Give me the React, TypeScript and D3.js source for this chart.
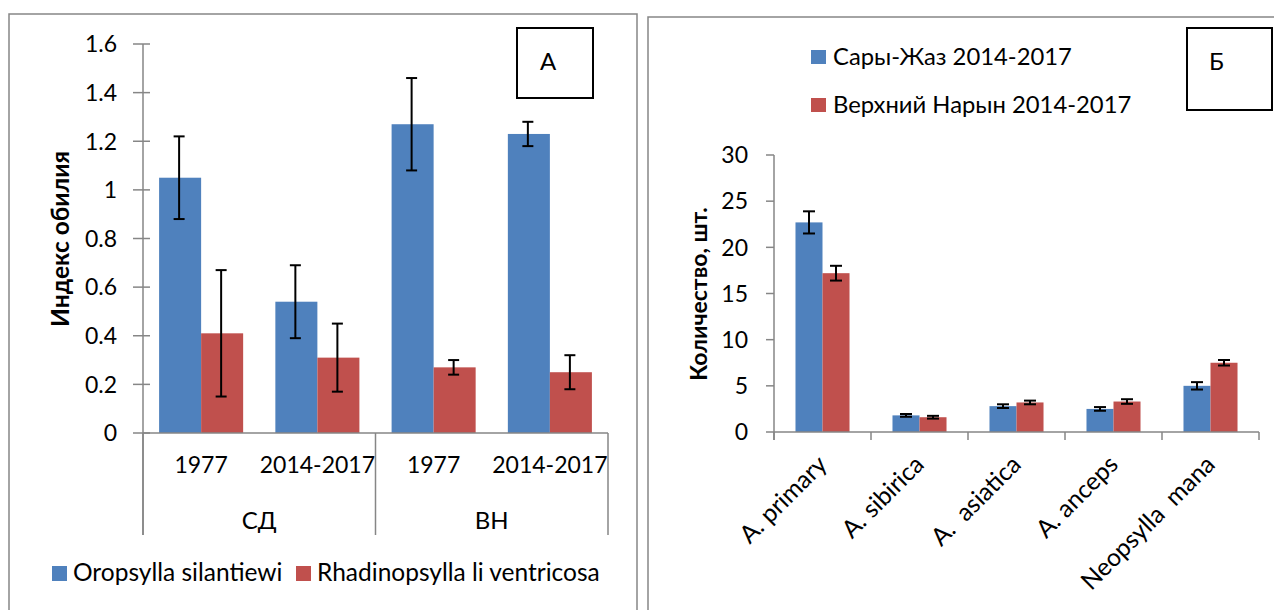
import React from "react";
import * as d3 from "d3";

const BLUE = "#4F81BD";
const RED = "#C0504D";
const AXIS = "#868686";
const FONT = "Lato, 'Open Sans', sans-serif";

// panel A
const aCats = ["1977", "2014-2017", "1977", "2014-2017"];
const aGroups = ["СД", "ВН"];
const aSeries = ["Oropsylla silantiewi", "Rhadinopsylla li ventricosa"];
const aBlue = [1.05, 0.54, 1.27, 1.23];
const aBlueLo = [0.88, 0.39, 1.08, 1.18];
const aBlueHi = [1.22, 0.69, 1.46, 1.28];
const aRed = [0.41, 0.31, 0.27, 0.25];
const aRedLo = [0.15, 0.17, 0.24, 0.18];
const aRedHi = [0.67, 0.45, 0.3, 0.32];
const aTicks = [0, 0.2, 0.4, 0.6, 0.8, 1, 1.2, 1.4, 1.6];

// panel B
const bCats = ["A. primary", "A. sibirica", "A.  asiatica", "A. anceps", "Neopsylla  mana"];
const bSeries = ["Сары-Жаз 2014-2017", "Верхний Нарын 2014-2017"];
const bBlue = [22.7, 1.8, 2.8, 2.5, 5.0];
const bBlueErr = [1.2, 0.15, 0.2, 0.2, 0.4];
const bRed = [17.2, 1.6, 3.2, 3.3, 7.5];
const bRedErr = [0.8, 0.15, 0.2, 0.25, 0.3];
const bTicks = [0, 5, 10, 15, 20, 25, 30];

const ErrBar = ({ x, y1, y2, cap }: { x: number; y1: number; y2: number; cap: number }) => (
  <g stroke="#000" strokeWidth={2}>
    <line x1={x} x2={x} y1={y1} y2={y2} />
    <line x1={x - cap / 2} x2={x + cap / 2} y1={y1} y2={y1} />
    <line x1={x - cap / 2} x2={x + cap / 2} y1={y2} y2={y2} />
  </g>
);

const PanelA = () => {
  const left = 143, right = 608, top = 44, base = 433;
  const keys = aCats.map((_, i) => String(i));
  const x0 = d3.scaleBand<string>().domain(keys).range([left, right]).paddingInner(0.277).paddingOuter(0.1385);
  const x1 = d3.scaleBand<string>().domain(aSeries).range([0, x0.bandwidth()]);
  const y = d3.scaleLinear().domain([0, 1.6]).range([base, top]);
  const groupEdges = [left, (left + right) / 2, right];
  const series = [
    { name: aSeries[0], color: BLUE, v: aBlue, lo: aBlueLo, hi: aBlueHi },
    { name: aSeries[1], color: RED, v: aRed, lo: aRedLo, hi: aRedHi },
  ];
  return (
    <g fontFamily={FONT}>
      <rect x={9} y={14} width={628} height={620} fill="none" stroke={AXIS} strokeWidth={1.5} />
      {/* y axis */}
      <line x1={left} x2={left} y1={top} y2={535} stroke={AXIS} strokeWidth={1.5} />
      {aTicks.map((t) => (
        <g key={t}>
          <line x1={left - 10} x2={left + 7} y1={y(t)} y2={y(t)} stroke={AXIS} strokeWidth={1.5} />
          <text x={117} y={y(t)} dy="0.36em" textAnchor="end" fontSize={23}>
            {t}
          </text>
        </g>
      ))}
      <text transform={`translate(69,239) rotate(-90)`} textAnchor="middle" fontSize={24.5} fontWeight="bold">
        Индекс обилия
      </text>
      {/* bars */}
      {series.map((s) =>
        keys.map((k, i) => (
          <rect key={s.name + k} x={(x0(k) ?? 0) + (x1(s.name) ?? 0)} y={y(s.v[i])} width={x1.bandwidth()} height={base - y(s.v[i])} fill={s.color} />
        ))
      )}
      {series.map((s) =>
        keys.map((k, i) => (
          <ErrBar key={"e" + s.name + k} x={(x0(k) ?? 0) + (x1(s.name) ?? 0) + x1.bandwidth() / 2 - 1} y1={y(s.hi[i])} y2={y(s.lo[i])} cap={11} />
        ))
      )}
      {/* x axis */}
      <line x1={left} x2={right} y1={base} y2={base} stroke={AXIS} strokeWidth={1.5} />
      {groupEdges.map((gx, i) => (
        <line key={i} x1={gx} x2={gx} y1={base} y2={535} stroke={AXIS} strokeWidth={1.5} />
      ))}
      {keys.map((k, i) => (
        <text key={k} x={(x0(k) ?? 0) + x0.bandwidth() / 2} y={473} textAnchor="middle" fontSize={23}>
          {aCats[i]}
        </text>
      ))}
      {aGroups.map((g, i) => (
        <text key={g} x={(groupEdges[i] + groupEdges[i + 1]) / 2} y={529} textAnchor="middle" fontSize={24}>
          {g}
        </text>
      ))}
      {/* legend */}
      {series.map((s, i) => (
        <g key={s.name} transform={`translate(${[52, 296][i]},566)`}>
          <rect width={15} height={15} fill={s.color} />
          <text x={21} y={15} fontSize={24.5}>
            {s.name}
          </text>
        </g>
      ))}
      <rect x={517} y={28} width={76} height={70} fill="#fff" stroke="#000" strokeWidth={2} />
      <text x={540} y={70} fontSize={24}>
        А
      </text>
    </g>
  );
};

const PanelB = () => {
  const left = 774, right = 1259, top = 155, base = 432;
  const x0 = d3.scaleBand<string>().domain(bCats).range([left, right]).paddingInner(0.443).paddingOuter(0.2215);
  const x1 = d3.scaleBand<string>().domain(bSeries).range([0, x0.bandwidth()]);
  const y = d3.scaleLinear().domain([0, 30]).range([base, top]);
  const step = x0.step();
  const edges = d3.range(bCats.length + 1).map((i) => left + i * step);
  const series = [
    { name: bSeries[0], color: BLUE, v: bBlue, e: bBlueErr },
    { name: bSeries[1], color: RED, v: bRed, e: bRedErr },
  ];
  return (
    <g fontFamily={FONT}>
      <rect x={648} y={17} width={640} height={620} fill="none" stroke={AXIS} strokeWidth={1.5} />
      {/* legend */}
      {series.map((s, i) => (
        <g key={s.name} transform={`translate(811,${[50, 98][i]})`}>
          <rect width={15} height={14} fill={s.color} />
          <text x={22} y={15} fontSize={23.8}>
            {s.name}
          </text>
        </g>
      ))}
      <rect x={1187} y={28} width={85} height={82} fill="#fff" stroke="#000" strokeWidth={2} />
      <text x={1209} y={70} fontSize={24}>
        Б
      </text>
      {/* y axis */}
      <line x1={left} x2={left} y1={top} y2={base + 8} stroke={AXIS} strokeWidth={1.5} />
      {bTicks.map((t) => (
        <g key={t}>
          <line x1={left - 8} x2={left} y1={y(t)} y2={y(t)} stroke={AXIS} strokeWidth={1.5} />
          <text x={748} y={y(t)} dy="0.36em" textAnchor="end" fontSize={23}>
            {t}
          </text>
        </g>
      ))}
      <text transform={`translate(707,294) rotate(-90)`} textAnchor="middle" fontSize={23} fontWeight="bold">
        Количество, шт.
      </text>
      {series.map((s) =>
        bCats.map((c, i) => (
          <rect key={s.name + c} x={(x0(c) ?? 0) + (x1(s.name) ?? 0)} y={y(s.v[i])} width={x1.bandwidth()} height={base - y(s.v[i])} fill={s.color} />
        ))
      )}
      {series.map((s) =>
        bCats.map((c, i) => (
          <ErrBar key={"e" + s.name + c} x={(x0(c) ?? 0) + (x1(s.name) ?? 0) + x1.bandwidth() / 2} y1={y(s.v[i] + s.e[i])} y2={y(s.v[i] - s.e[i])} cap={12} />
        ))
      )}
      <line x1={left} x2={right} y1={base} y2={base} stroke={AXIS} strokeWidth={1.5} />
      {edges.map((ex, i) => (
        <line key={i} x1={ex} x2={ex} y1={base} y2={base + 8} stroke={AXIS} strokeWidth={1.5} />
      ))}
      {bCats.map((c) => (
        <text
          key={c}
          transform={`translate(${(x0(c) ?? 0) + x0.bandwidth() / 2 + 6},${base + 34}) rotate(-45)`}
          textAnchor="end"
          fontSize={24.6}
          style={{ whiteSpace: "pre" }}
        >
          {c}
        </text>
      ))}
    </g>
  );
};

export default function App() {
  return (
    <svg width={1274} height={610} style={{ position: "absolute", left: 0, top: 0, background: "#fff" }}>
      <rect width={1274} height={610} fill="#fff" />
      <PanelA />
      <PanelB />
    </svg>
  );
}
